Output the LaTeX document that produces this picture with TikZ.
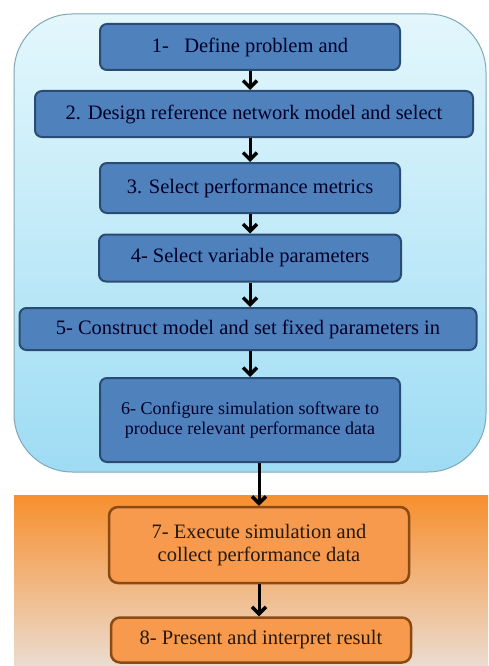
\documentclass[tikz,border=0pt]{standalone}
\usepackage{fontspec}
\setmainfont{Liberation Serif}
\usetikzlibrary{arrows.meta}

\definecolor{stepblue}{HTML}{4F81BD}
\definecolor{stepblueline}{HTML}{2B4C72}
\definecolor{steporange}{HTML}{F79A4E}
\definecolor{steporangeline}{HTML}{8A4A14}
\definecolor{regtop}{HTML}{E3F7FC}
\definecolor{regbottom}{HTML}{9EDCF4}
\definecolor{regline}{HTML}{7FA7B8}
\definecolor{orgtop}{HTML}{F78F2E}
\definecolor{orgbottom}{HTML}{EBDCD0}

\tikzset{
  bluestep/.style={draw=stepblueline, fill=stepblue, line width=2pt,
    rounded corners=7pt, align=center, text=black!85!blue,
    inner sep=0pt, font=\fontsize{20.5}{23}\selectfont},
  orangestep/.style={draw=steporangeline, fill=steporange, line width=2.5pt,
    rounded corners=9pt, align=center, text=black!80!brown,
    inner sep=0pt, font=\fontsize{20.5}{23}\selectfont},
  flow/.style={line width=3pt, -{Straight Barb[length=7pt,width=14pt,line width=3.5pt]}}
}

\begin{document}
\begin{tikzpicture}[x=1pt, y=-1pt]
  \useasboundingbox (0,0) rectangle (488,666);

  % Regions
  \draw[regline, line width=1pt, top color=regtop, bottom color=regbottom,
    rounded corners=58pt] (14,14) rectangle (486,472);
  \shade[top color=orgtop, bottom color=orgbottom] (14,495) rectangle (488,666);

  % Steps
  \node[bluestep, minimum width=300pt, minimum height=46pt] (b1) at (250,47)
    {1-\ \ \ Define problem and};
  \node[bluestep, minimum width=438pt, minimum height=46pt] (b2) at (254,114)
    {2. Design reference network model and select};
  \node[bluestep, minimum width=300pt, minimum height=50pt] (b3) at (250,188)
    {3. Select performance metrics};
  \node[bluestep, minimum width=302pt, minimum height=47pt] (b4) at (250,258)
    {4- Select variable parameters};
  \node[bluestep, minimum width=457pt, minimum height=42pt] (b5) at (248,329)
    {5- Construct model and set fixed parameters in};
  \node[bluestep, minimum width=300pt, minimum height=84pt,
    font=\fontsize{18}{20.5}\selectfont] (b6) at (250,420)
    {6- Configure simulation software to\\produce relevant performance data};
  \node[orangestep, minimum width=300pt, minimum height=76pt] (b7) at (259,545)
    {7- Execute simulation and\\collect performance data};
  \node[orangestep, minimum width=300pt, minimum height=45pt] (b8) at (261,640)
    {8- Present and interpret result};

  % Arrows
  \draw[flow] (b1.south) -- (b2.north -| b1.south);
  \draw[flow] (b2.south -| b3.north) -- (b3.north);
  \draw[flow] (b3.south) -- (b4.north -| b3.south);
  \draw[flow] (b4.south) -- (b5.north -| b4.south);
  \draw[flow] (b5.south -| b6.north) -- (b6.north);
  \draw[flow] (b6.south -| b7.north) -- (b7.north);
  \draw[flow] (b7.south) -- (b8.north -| b7.south);
\end{tikzpicture}
\end{document}
